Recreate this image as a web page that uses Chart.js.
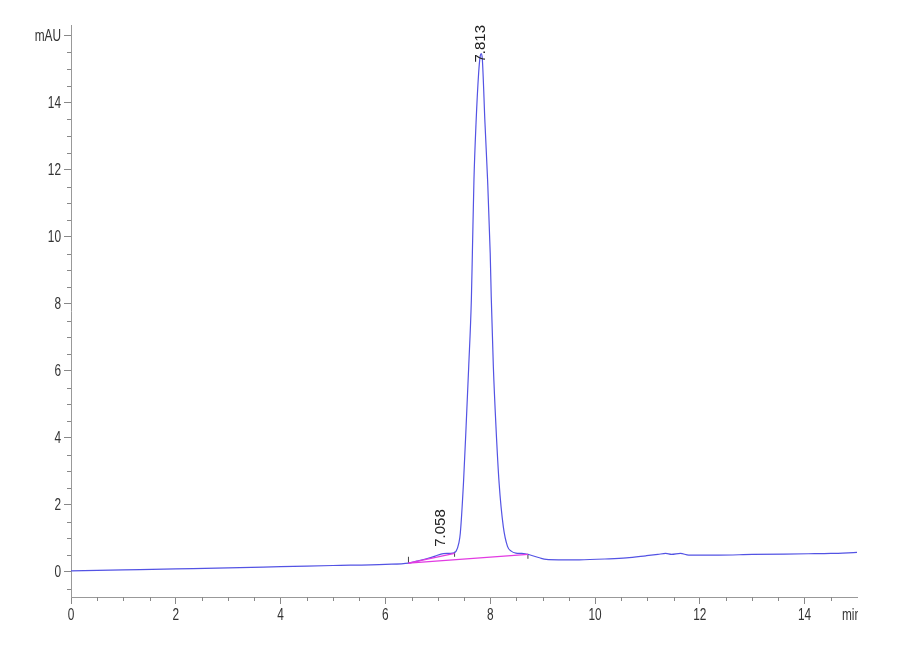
<!DOCTYPE html>
<html>
<head>
<meta charset="utf-8">
<script src="https://cdn.jsdelivr.net/npm/chart.js@4/dist/chart.umd.min.js"></script>
<style>
  html, body { margin: 0; padding: 0; background: #fff; }
  #wrap { width: 900px; height: 660px; }
</style>
</head>
<body>
<div id="wrap"><canvas id="hplc"></canvas></div>
<script>
// retention time (min) and absorbance (mAU)
var times = [0, 0.5, 1, 2, 3, 4, 5, 6, 6.44, 6.6, 6.8, 6.95, 7.06, 7.18, 7.28, 7.35, 7.4, 7.43,
  7.49, 7.54, 7.59, 7.64, 7.66, 7.69, 7.73, 7.78, 7.81, 7.83, 7.85, 7.9, 7.95, 8.0, 8.02, 8.06,
  8.11, 8.17, 8.25, 8.33, 8.4, 8.49, 8.6, 8.75, 8.94, 9.07, 9.3, 9.7, 10.27, 10.6, 10.97, 11.2,
  11.35, 11.46, 11.63, 11.79, 12.0, 12.36, 13.0, 14.07, 14.5, 15.0];
var absorb = [0.03, 0.045, 0.06, 0.09, 0.12, 0.155, 0.19, 0.225, 0.26, 0.32, 0.4, 0.47, 0.53, 0.55, 0.56, 0.62, 0.85, 1.16,
  2.65, 4.34, 6.13, 8.1, 9.52, 11.7, 13.4, 14.9, 15.4, 15.47, 15.3, 13.4, 11.7, 9.52, 8.2, 6.13,
  4.34, 2.65, 1.35, 0.76, 0.62, 0.56, 0.55, 0.51, 0.42, 0.37, 0.36, 0.36, 0.39, 0.42, 0.48, 0.52,
  0.55, 0.52, 0.55, 0.5, 0.5, 0.5, 0.52, 0.54, 0.55, 0.58];

// integration baselines (magenta)
var baseShoulderT = [6.44, 7.32];
var baseShoulderV = [0.26, 0.55];
var baseMainT = [6.44, 8.72];
var baseMainV = [0.26, 0.52];

// peak start/end marks
var markT = [6.44, 7.32, 8.72];
var markLo = [0.26, 0.45, 0.39];
var markHi = [0.45, 0.6, 0.54];

// peak labels
var peakT = [7.058, 7.813];
var peakLabelY = [0.75, 15.2];
var peakText = ['7.058', '7.813'];

var xTicks = [0, 2, 4, 6, 8, 10, 12, 14];
var yTicks = [0, 2, 4, 6, 8, 10, 12, 14];
var xUnit = 'min';
var yUnit = 'mAU';
var yUnitAt = 16;

function pts(xs, ys) {
  return xs.map(function (x, i) { return { x: x, y: ys[i] }; });
}

var datasets = [
  { data: pts(baseShoulderT, baseShoulderV), borderColor: '#e23be2', borderWidth: 1.3 },
  { data: pts(baseMainT, baseMainV), borderColor: '#e23be2', borderWidth: 1.3 },
  { data: pts(times, absorb), borderColor: '#5353e4', borderWidth: 1.2, cubicInterpolationMode: 'monotone' }
];
markT.forEach(function (t, i) {
  datasets.push({ data: [{ x: t, y: markLo[i] }, { x: t, y: markHi[i] }], borderColor: '#444', borderWidth: 1 });
});

function isMajor(v, list) {
  return list.some(function (m) { return Math.abs(m - v) < 1e-6; });
}
function halfSteps(scale) {
  scale.ticks = scale.ticks.filter(function (t) {
    return Math.abs(t.value * 2 - Math.round(t.value * 2)) < 1e-6;
  });
}

// narrow label text, like the instrument software prints it
function narrowText(c, txt, x, y, align) {
  c.save();
  c.translate(x, y);
  c.scale(0.74, 1);
  c.textAlign = align;
  c.fillText(txt, 0, 0);
  c.restore();
}

var extras = {
  id: 'extras',
  afterDraw: function (chart) {
    var c = chart.ctx, xs = chart.scales.x, ys = chart.scales.y;
    c.save();
    // minor ticks
    c.strokeStyle = '#888';
    c.lineWidth = 1;
    c.beginPath();
    xs.ticks.forEach(function (t) {
      if (isMajor(t.value, xTicks) || t.value >= 15) return;
      var px = Math.round(xs.getPixelForValue(t.value)) + 0.5;
      c.moveTo(px, ys.bottom); c.lineTo(px, ys.bottom + 4);
    });
    ys.ticks.forEach(function (t) {
      if (isMajor(t.value, yTicks) || t.value === yUnitAt) return;
      var py = Math.round(ys.getPixelForValue(t.value)) + 0.5;
      c.moveTo(xs.left, py); c.lineTo(xs.left - 4, py);
    });
    c.stroke();

    // tick labels
    c.fillStyle = '#333';
    c.font = '16px "Liberation Sans", Arial, sans-serif';
    c.textBaseline = 'middle';
    var ly = ys.bottom + 19;
    xTicks.forEach(function (v) {
      narrowText(c, String(v), xs.getPixelForValue(v), ly, 'center');
    });
    yTicks.forEach(function (v) {
      narrowText(c, String(v), xs.left - 10, ys.getPixelForValue(v) + 1, 'right');
    });
    narrowText(c, yUnit, xs.left - 10, ys.getPixelForValue(yUnitAt) + 1, 'right');
    c.beginPath();
    c.rect(xs.right - 20, ys.bottom, 21, 40);
    c.clip();
    narrowText(c, xUnit, xs.right - 15, ly, 'left');
    c.restore();

    // peak labels
    c.save();
    c.fillStyle = '#222';
    c.font = '15px "Liberation Sans", Arial, sans-serif';
    c.textAlign = 'left';
    c.textBaseline = 'middle';
    peakT.forEach(function (t, i) {
      c.save();
      c.translate(xs.getPixelForValue(t), ys.getPixelForValue(peakLabelY[i]));
      c.rotate(-Math.PI / 2);
      c.fillText(peakText[i], 0, 0);
      c.restore();
    });
    c.restore();
  }
};

new Chart(document.getElementById('hplc').getContext('2d'), {
  type: 'line',
  data: { datasets: datasets },
  options: {
    responsive: true,
    maintainAspectRatio: false,
    animation: false,
    layout: { padding: { left: 0, right: 43, top: 25, bottom: 0 } },
    elements: { point: { radius: 0 }, line: { tension: 0 } },
    plugins: { legend: { display: false }, tooltip: { enabled: false } },
    scales: {
      x: {
        type: 'linear',
        min: 0,
        max: 15,
        afterBuildTicks: halfSteps,
        afterFit: function (s) { s.height = 63; },
        border: { color: '#999', width: 1 },
        grid: {
          drawOnChartArea: false,
          tickLength: 7,
          tickColor: function (ctx) { return ctx.tick && isMajor(ctx.tick.value, xTicks) ? '#888' : 'rgba(0,0,0,0)'; }
        },
        ticks: { stepSize: 0.5, autoSkip: false, maxRotation: 0, display: false }
      },
      y: {
        type: 'linear',
        min: -0.75,
        max: 16.32,
        afterBuildTicks: halfSteps,
        afterFit: function (s) { s.width = 71; },
        border: { color: '#999', width: 1 },
        grid: {
          drawOnChartArea: false,
          tickLength: 7,
          tickColor: function (ctx) {
            return ctx.tick && (isMajor(ctx.tick.value, yTicks) || ctx.tick.value === yUnitAt) ? '#888' : 'rgba(0,0,0,0)';
          }
        },
        ticks: { stepSize: 0.5, autoSkip: false, includeBounds: false, display: false }
      }
    }
  },
  plugins: [extras]
});
</script>
</body>
</html>
